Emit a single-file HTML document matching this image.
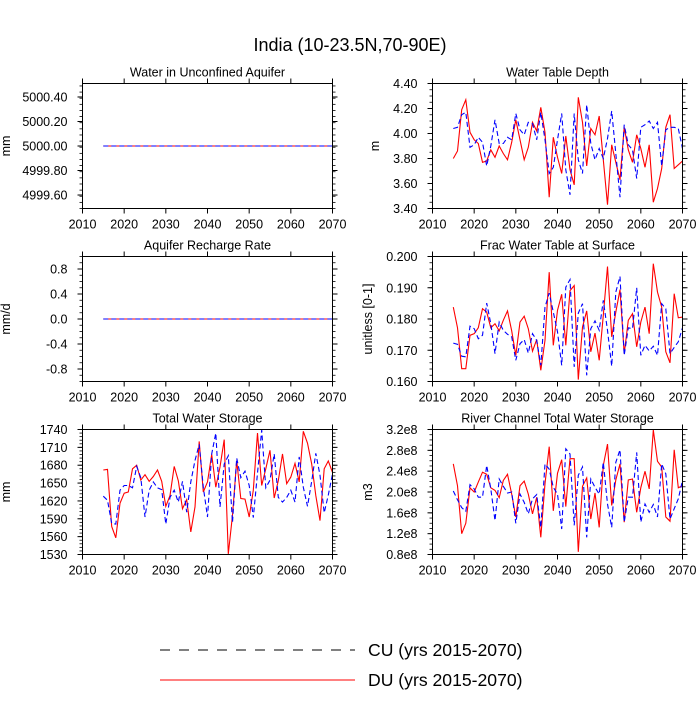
<!DOCTYPE html>
<html><head><meta charset="utf-8"><style>
body{margin:0;background:#fff;}
svg text{font-family:"Liberation Sans",sans-serif;fill:#000;}
</style></head><body>
<svg id="chart" width="700" height="700" xmlns="http://www.w3.org/2000/svg">
<rect width="700" height="700" fill="#fff"/>
<text x="350" y="51" text-anchor="middle" font-size="18">India (10-23.5N,70-90E)</text>
<g>
<line x1="160" y1="650" x2="355" y2="650" stroke="#000" stroke-width="1" stroke-dasharray="10,9"/>
<text x="368" y="656" font-size="17.6">CU (yrs 2015-2070)</text>
<line x1="160" y1="680" x2="355" y2="680" stroke="#f00" stroke-width="1"/>
<text x="368" y="686" font-size="17.6">DU (yrs 2015-2070)</text>
</g>
</svg>
<script>
const years = [];
for (let y = 2015; y <= 2070; y++) years.push(y);
const xTicks = [2010,2020,2030,2040,2050,2060,2070];
const aquiferCU = years.map(()=>5000);
const aquiferDU = years.map(()=>5000);
const rechargeCU = years.map(()=>0);
const rechargeDU = years.map(()=>0);
const wtdDU = [3.80,3.86,4.19,4.27,4.01,3.95,3.92,3.77,3.78,3.87,3.81,3.90,3.84,3.79,3.93,4.11,3.95,3.79,3.89,4.09,4.02,4.21,4.01,3.49,3.97,3.81,3.68,3.98,3.71,3.59,4.29,4.09,3.74,4.04,3.99,4.14,3.79,3.43,3.91,3.77,3.63,4.05,3.87,3.77,3.99,3.88,3.73,3.91,3.45,3.56,3.72,4.05,4.15,3.72,3.75,3.78];
const wtdCU = [4.04,4.05,4.15,4.17,3.89,3.91,3.97,3.93,3.74,3.90,4.11,3.92,3.92,3.97,3.95,4.16,4.03,3.99,4.09,4.08,3.95,4.17,3.95,3.68,3.73,3.95,4.16,3.71,3.51,4.16,3.79,3.68,4.23,3.92,3.79,3.88,3.80,3.96,4.18,3.84,3.49,4.07,3.91,3.87,3.64,4.05,4.07,4.10,4.04,4.09,3.74,4.03,4.05,4.05,4.04,3.88];
const fracDU = [0.1838,0.1772,0.1641,0.1641,0.1748,0.1753,0.1772,0.1833,0.1822,0.1772,0.1785,0.1762,0.1796,0.1826,0.1762,0.1684,0.1790,0.1809,0.1769,0.1697,0.1734,0.1636,0.1732,0.1950,0.1716,0.1828,0.1879,0.1716,0.1891,0.1907,0.1606,0.1774,0.1826,0.1695,0.1755,0.1668,0.1812,0.1968,0.1743,0.1822,0.1894,0.1689,0.1796,0.1817,0.1711,0.1790,0.1838,0.1753,0.1977,0.1886,0.1838,0.1695,0.1660,0.1881,0.1804,0.1806];
const fracCU = [0.1723,0.1719,0.1681,0.1679,0.1777,0.1769,0.1737,0.1748,0.1851,0.1785,0.1689,0.1790,0.1764,0.1751,0.1743,0.1668,0.1721,0.1734,0.1691,0.1753,0.1732,0.1652,0.1838,0.1883,0.1822,0.1759,0.1652,0.1902,0.1926,0.1647,0.1819,0.1849,0.1620,0.1769,0.1794,0.1764,0.1860,0.1764,0.1649,0.1886,0.1936,0.1684,0.1772,0.1769,0.1900,0.1684,0.1716,0.1698,0.1713,0.1684,0.1849,0.1833,0.1689,0.1709,0.1727,0.1772];
const twsDU = [1672,1673,1577,1558,1616,1633,1635,1674,1680,1655,1664,1653,1661,1672,1653,1611,1629,1678,1654,1607,1622,1568,1610,1720,1635,1652,1698,1643,1677,1723,1531,1596,1688,1624,1623,1593,1638,1734,1646,1674,1705,1625,1654,1699,1649,1660,1683,1652,1737,1717,1682,1629,1587,1674,1687,1668];
const twsCU = [1628,1621,1582,1581,1638,1646,1646,1642,1678,1659,1593,1638,1652,1642,1639,1581,1626,1638,1618,1653,1601,1652,1688,1715,1643,1593,1699,1734,1610,1682,1696,1584,1692,1659,1670,1646,1592,1667,1739,1642,1655,1699,1626,1618,1626,1638,1618,1694,1643,1611,1653,1700,1663,1600,1630,1665];
const rivDU = [2.54,2.12,1.20,1.40,2.08,2.00,2.19,2.38,2.34,2.08,2.03,1.89,2.22,2.34,1.96,1.52,2.12,2.21,1.96,1.58,1.90,1.13,2.16,2.87,1.64,2.36,2.62,1.72,2.64,2.64,0.85,2.11,2.27,1.48,1.98,1.32,2.51,2.92,1.74,2.23,2.54,1.42,2.23,2.25,1.61,2.08,2.40,2.06,3.19,2.59,2.48,1.52,1.44,2.81,2.08,2.12];
const rivCU = [2.02,1.85,1.70,1.63,2.14,2.06,1.90,1.90,2.51,2.06,1.45,2.25,2.11,1.98,2.00,1.40,1.96,1.80,1.58,1.87,1.95,1.32,2.54,2.44,2.09,1.96,1.29,2.83,2.73,1.36,2.32,2.48,1.13,2.25,2.09,1.96,2.57,1.77,1.32,2.57,2.81,1.42,1.90,1.90,2.76,1.42,1.77,1.61,1.76,1.52,2.54,2.35,1.48,1.68,1.87,2.22];

const NS = "http://www.w3.org/2000/svg";
const svg = document.getElementById('chart');
function mk(tag, attrs, parent){const e=document.createElementNS(NS,tag);for(const k in attrs)e.setAttribute(k,attrs[k]);(parent||svg).appendChild(e);return e;}

const panels = [
 {name:'aquifer-panel',title:'Water in Unconfined Aquifer',ylab:'mm',labX:10,x0:82.5,y0:83.5,ymin:4999.49,ymax:5000.51,ticks:[5000.4,5000.2,5000.0,4999.8,4999.6],fmt:v=>v.toFixed(2),minor:0.05,cu:aquiferCU,du:aquiferDU},
 {name:'wtd-panel',title:'Water Table Depth',ylab:'m',labX:379,x0:432.5,y0:83.5,ymin:3.4,ymax:4.4,ticks:[4.4,4.2,4.0,3.8,3.6,3.4],fmt:v=>v.toFixed(2),minor:0.05,cu:wtdCU,du:wtdDU},
 {name:'recharge-panel',title:'Aquifer Recharge Rate',ylab:'mm/d',labX:10,x0:82.5,y0:256.5,ymin:-1,ymax:1,ticks:[0.8,0.4,0.0,-0.4,-0.8],fmt:v=>v.toFixed(1),minor:0.1,cu:rechargeCU,du:rechargeDU},
 {name:'frac-panel',title:'Frac Water Table at Surface',ylab:'unitless [0-1]',labX:372,x0:432.5,y0:256.5,ymin:0.16,ymax:0.2,ticks:[0.2,0.19,0.18,0.17,0.16],fmt:v=>v.toFixed(3),minor:0.002,cu:fracCU,du:fracDU},
 {name:'tws-panel',title:'Total Water Storage',ylab:'mm',labX:10,x0:82.5,y0:429.5,ymin:1530,ymax:1740,ticks:[1740,1710,1680,1650,1620,1590,1560,1530],fmt:v=>String(v),minor:6,cu:twsCU,du:twsDU},
 {name:'river-panel',title:'River Channel Total Water Storage',ylab:'m3',labX:372,x0:432.5,y0:429.5,ymin:0.8,ymax:3.2,ticks:[3.2,2.8,2.4,2.0,1.6,1.2,0.8],fmt:v=>v.toFixed(1)+'e8',minor:0.1,cu:rivCU,du:rivDU}
];
const W=250,H=125;
panels.forEach(p=>{
  const g=mk('g',{});
  
  
  const X=v=>p.x0+(v-2010)/60*W;
  const Y=v=>p.y0+(p.ymax-v)/(p.ymax-p.ymin)*H;
  const t=mk('text',{x:p.x0+W/2,y:p.y0-7,'text-anchor':'middle','font-size':'12.5'},g);
  t.textContent=p.title;
  
  
  const nMin=Math.round((p.ymax-p.ymin)/p.minor);
  for(let i=0;i<=nMin;i++){const v=p.ymin+i*p.minor;const yy=Y(v);if(yy<p.y0-0.5||yy>p.y0+H+0.5)continue;
    mk('line',{x1:p.x0-3,x2:p.x0,y1:yy,y2:yy,stroke:'#000','stroke-width':0.8},g);
    mk('line',{x1:p.x0+W,x2:p.x0+W+3,y1:yy,y2:yy,stroke:'#000','stroke-width':0.8},g);}
  p.ticks.forEach(v=>{const yy=Y(v);
    mk('line',{x1:p.x0-5,x2:p.x0,y1:yy,y2:yy,stroke:'#000','stroke-width':1},g);
    mk('line',{x1:p.x0+W,x2:p.x0+W+5,y1:yy,y2:yy,stroke:'#000','stroke-width':1},g);
    const l=mk('text',{x:p.x0-15,y:yy+4.5,'text-anchor':'end','font-size':'12.5'},g);
    l.textContent=p.fmt(v);
    
    });
  xTicks.forEach(v=>{const xx=X(v);
    mk('line',{x1:xx,x2:xx,y1:p.y0+H,y2:p.y0+H+5,stroke:'#000','stroke-width':1},g);
    mk('line',{x1:xx,x2:xx,y1:p.y0-5,y2:p.y0,stroke:'#000','stroke-width':1},g);
    const l=mk('text',{x:xx,y:p.y0+H+20,'text-anchor':'middle','font-size':'12.5'},g);
    l.textContent=v;
    
    });
  const yl=mk('text',{x:0,y:0,'text-anchor':'middle','font-size':'12.5',transform:`translate(${p.labX},${p.y0+H/2}) rotate(-90)`},g);
  yl.textContent=p.ylab;
  
  
  const du=mk('polyline',{points:p.du.map((v,i)=>X(years[i]).toFixed(1)+','+Y(v).toFixed(1)).join(' '),fill:'none',stroke:'#f00','stroke-width':1.1},g);
  
  
  const cu=mk('polyline',{points:p.cu.map((v,i)=>X(years[i]).toFixed(1)+','+Y(v).toFixed(1)).join(' '),fill:'none',stroke:'#00f','stroke-width':1.1,'stroke-dasharray':'5,3'},g);
  
  
  const fr=mk('rect',{x:p.x0,y:p.y0,width:W,height:H,fill:'none',stroke:'#000','stroke-width':1},g);
  
  
});
</script>
</body></html>
